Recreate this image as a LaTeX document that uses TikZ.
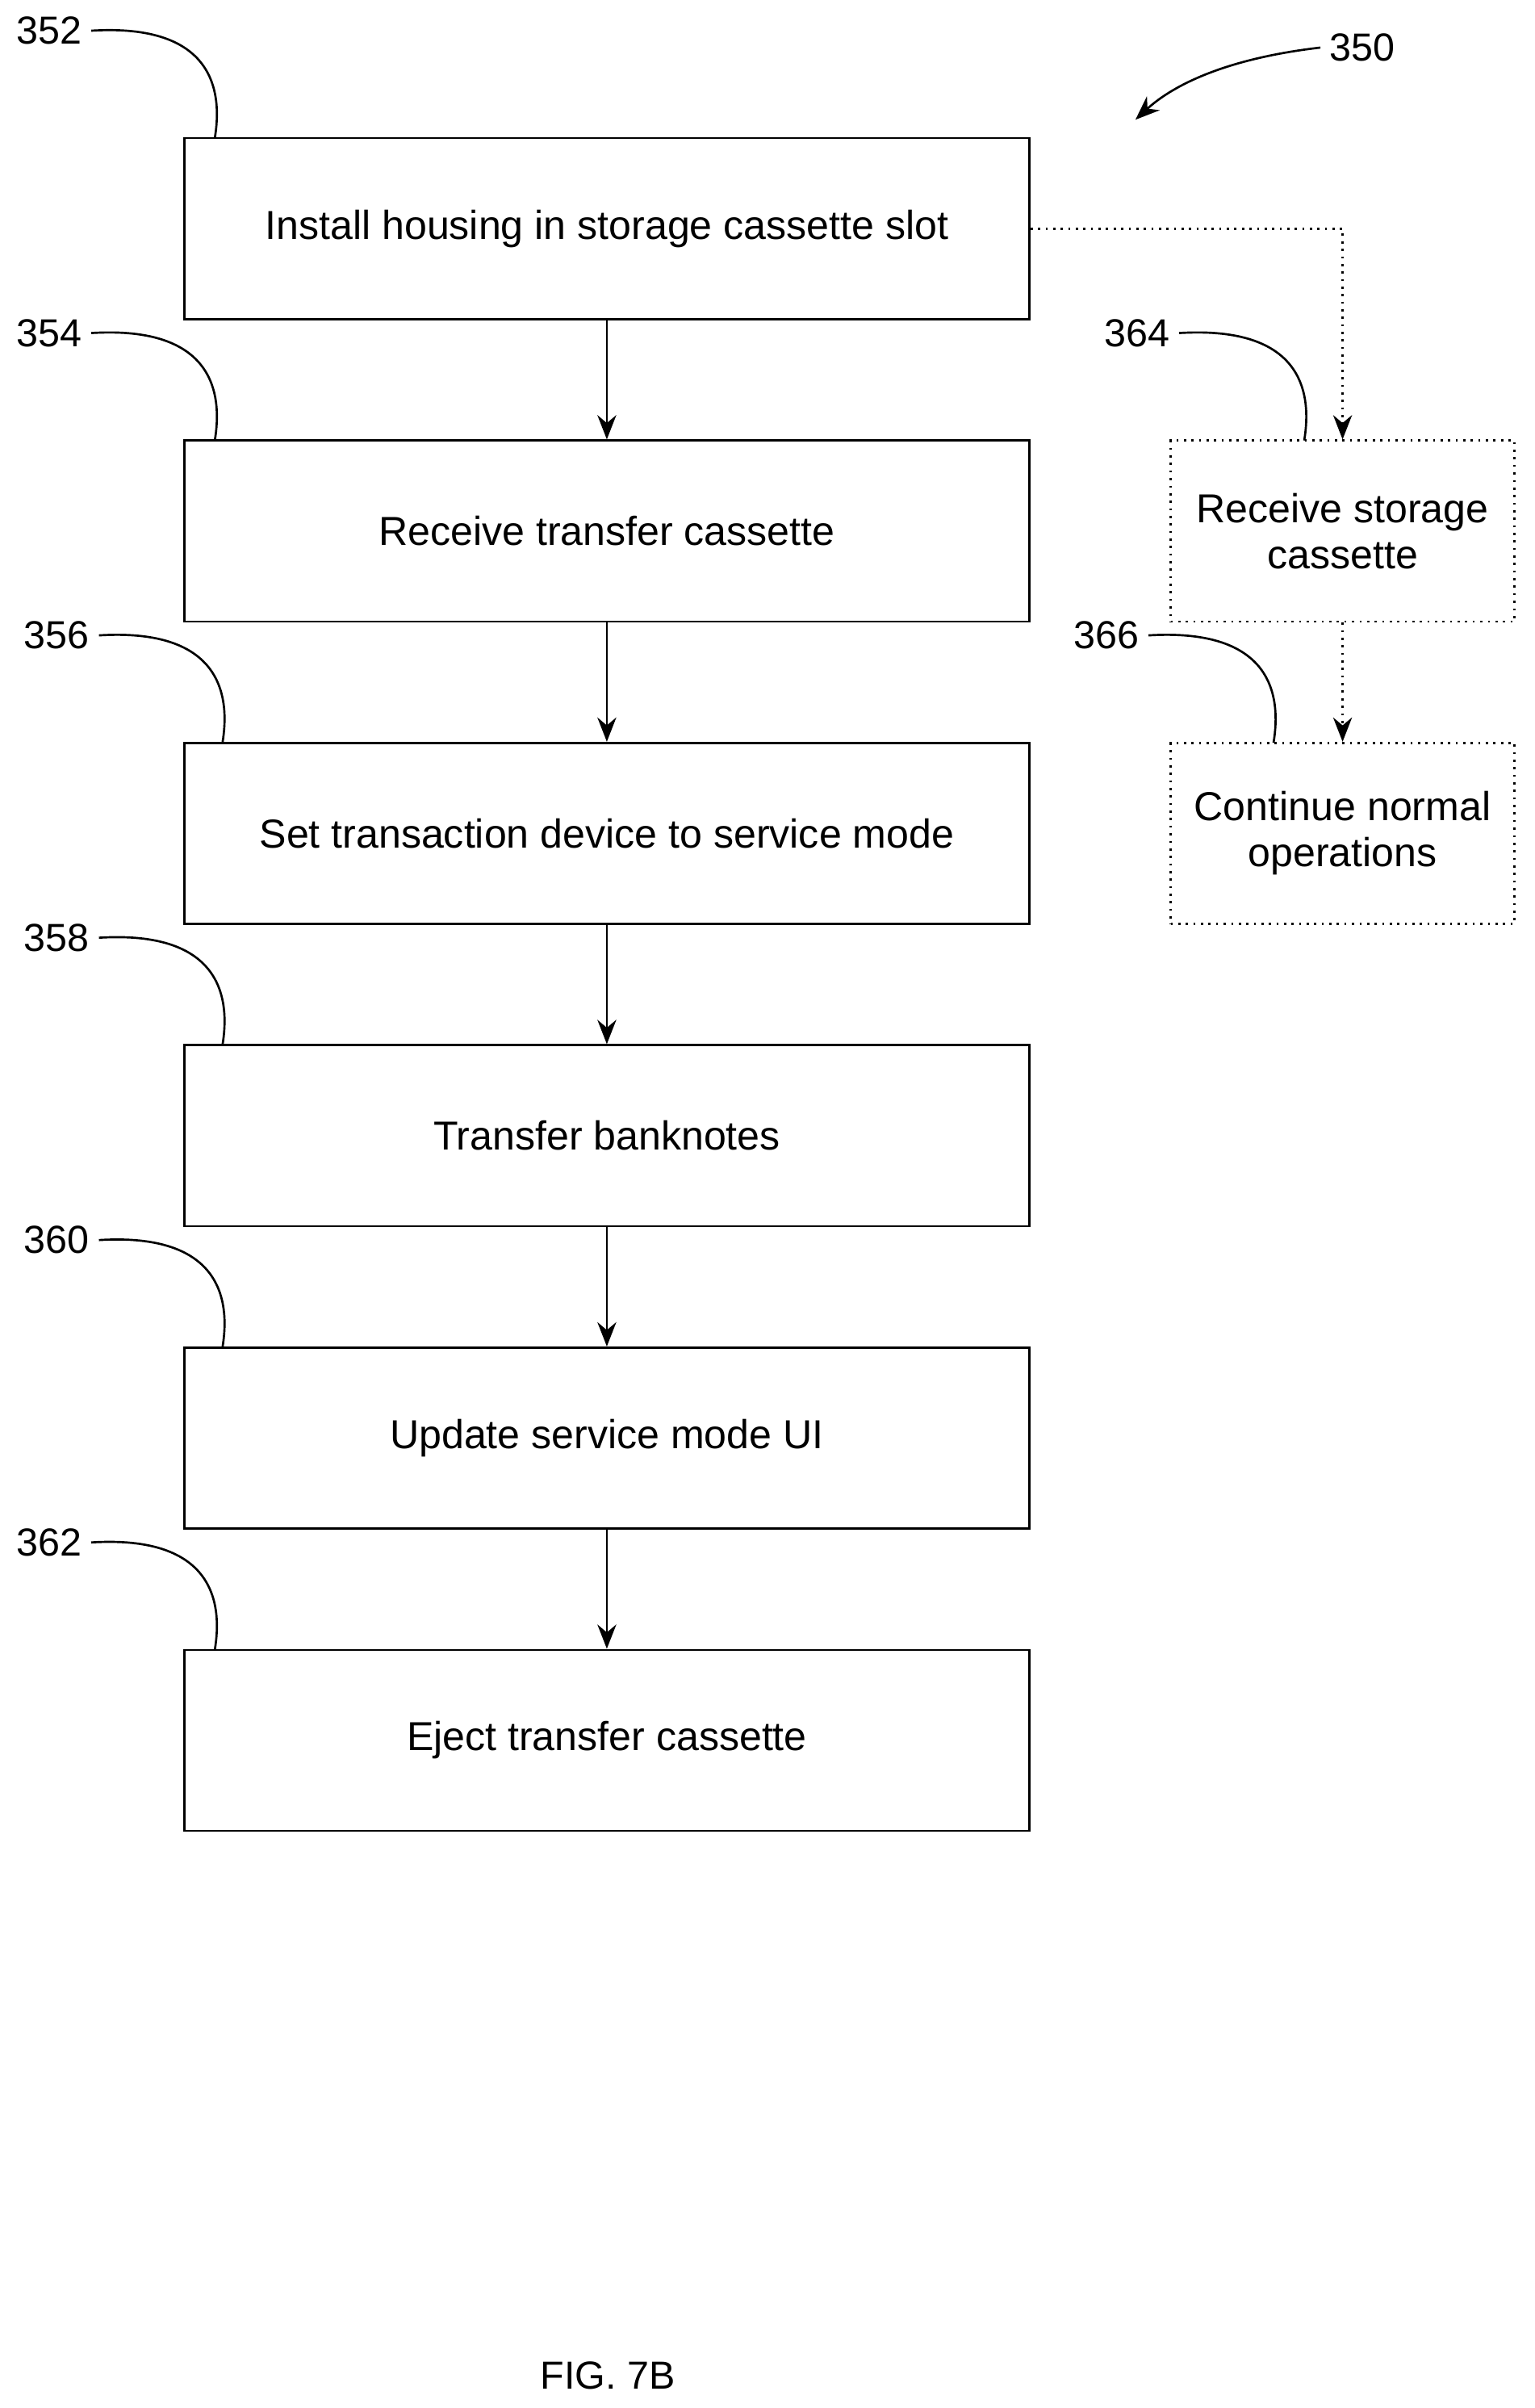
\documentclass[tikz,border=0pt]{standalone}
\usepackage{fontspec}
\setmainfont{Liberation Sans}
\usetikzlibrary{arrows.meta,positioning}
\tikzset{
  stepbox/.style={draw, thick, minimum width=11.02cm, minimum height=2.36cm, align=center, font=\fontsize{15}{18}\selectfont},
  sidebox/.style={draw, thick, dotted, minimum width=4.48cm, minimum height=2.36cm, align=center, font=\fontsize{15}{17}\selectfont},
  ref/.style={font=\fontsize{14.5}{17}\selectfont},
  flow/.style={thick, -{Stealth[length=9pt,width=7pt]}},
  lead/.style={thick}
}
\begin{document}
\begin{tikzpicture}[x=0.02cm, y=-0.02cm]
\useasboundingbox (0,0) rectangle (1000,1569);
% main steps
\node[stepbox] (s352) at (395.5,149) {Install housing in storage cassette slot};
\node[stepbox] (s354) at (395.5,346) {Receive transfer cassette};
\node[stepbox] (s356) at (395.5,543) {Set transaction device to service mode};
\node[stepbox] (s358) at (395.5,740) {Transfer banknotes};
\node[stepbox] (s360) at (395.5,937) {Update service mode UI};
\node[stepbox] (s362) at (395.5,1134) {Eject transfer cassette};
% side branch
\node[sidebox] (s364) at (875,346) {Receive storage\\cassette};
\node[sidebox] (s366) at (875,543) {Continue normal\\operations};
\foreach \a/\b in {s352/s354,s354/s356,s356/s358,s358/s360,s360/s362}
  \draw[flow] (\a) -- (\b);
\draw[flow, dotted] (s352.east) -| (s364.north);
\draw[flow, dotted] (s364) -- (s366);
% reference numerals
\node[ref] (r352) at (32,20) {352};
\node[ref] (r354) at (32,217) {354};
\node[ref] (r356) at (37,414) {356};
\node[ref] (r358) at (37,611) {358};
\node[ref] (r360) at (37,808) {360};
\node[ref] (r362) at (32,1005) {362};
\node[ref] (r364) at (741,217) {364};
\node[ref] (r366) at (721,414) {366};
\node[ref] (r350) at (888,31) {350};
\draw[lead] (r352.east) .. controls (140,15) and (145,60) .. (140,90);
\draw[lead] (r354.east) .. controls (140,212) and (145,257) .. (140,287);
\draw[lead] (r356.east) .. controls (145,409) and (150,454) .. (145,484);
\draw[lead] (r358.east) .. controls (145,606) and (150,651) .. (145,681);
\draw[lead] (r360.east) .. controls (145,803) and (150,848) .. (145,878);
\draw[lead] (r362.east) .. controls (140,1000) and (145,1045) .. (140,1075);
\draw[lead] (r364.east) .. controls (850,212) and (855,257) .. (850,287);
\draw[lead] (r366.east) .. controls (830,409) and (835,454) .. (830,484);
\draw[flow] (r350.west) .. controls (800,38) and (765,55) .. (740,78);
\node[ref] (fig) at (396,1548) {FIG. 7B};
\end{tikzpicture}
\end{document}
